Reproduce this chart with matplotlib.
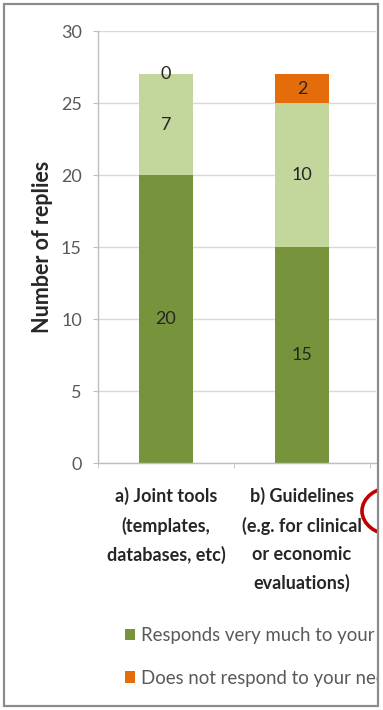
import matplotlib

matplotlib.use("Agg")
import matplotlib.pyplot as plt
from matplotlib.patches import Ellipse, Rectangle
from matplotlib.ticker import FixedLocator

plt.rcParams["font.family"] = ["Lato", "DejaVu Sans"]

CATEGORIES = [
    "a) Joint tools\n(templates,\ndatabases, etc)",
    "b) Guidelines\n(e.g. for clinical\nor economic\nevaluations)",
]
VERY_MUCH = [20, 15]
PARTIALLY = [7, 10]
NOT_RESPOND = [0, 2]
SERIES_NAMES = [
    "Responds very much to your needs",
    "Responds partially to your needs",
    "Does not respond to your needs",
]
Y_TICKS = [0, 5, 10, 15, 20, 25, 30]

DARK_GREEN = "#77933C"
LIGHT_GREEN = "#C3D69B"
ORANGE = "#E46C0A"
TICK_GREY = "#595959"
TEXT_DARK = "#262626"
AXIS_GREY = "#BFBFBF"
GRID_GREY = "#D9D9D9"

W, H = 383, 710


def fx(x):
    return x / W


def fy(y):
    return 1 - y / H


fig = plt.figure(figsize=(W / 100, H / 100), dpi=100)
ax = fig.add_axes([fx(98), fy(463), fx(376) - fx(98), fy(31) - fy(463)])

x = list(range(len(CATEGORIES)))
width = 0.4
bottoms_2 = VERY_MUCH
bottoms_3 = [a + b for a, b in zip(VERY_MUCH, PARTIALLY)]
ax.bar(x, VERY_MUCH, width, color=DARK_GREEN, zorder=2, label=SERIES_NAMES[0])
ax.bar(x, PARTIALLY, width, bottom=bottoms_2, color=LIGHT_GREEN, zorder=2, label=SERIES_NAMES[1])
ax.bar(x, NOT_RESPOND, width, bottom=bottoms_3, color=ORANGE, zorder=2, label=SERIES_NAMES[2])

for values, base in [(VERY_MUCH, [0] * len(x)), (PARTIALLY, bottoms_2), (NOT_RESPOND, bottoms_3)]:
    for xi, v, b in zip(x, values, base):
        ax.text(xi, b + v / 2, f"{v}", ha="center", va="center", fontsize=13,
                color=TEXT_DARK, zorder=3)

ax.set_ylim(0, 30)
ax.set_xlim(-0.5, -0.5 + (376 - 98) / 136)
ax.set_yticks(Y_TICKS)
ax.set_yticklabels([str(t) for t in Y_TICKS], fontsize=13, color=TICK_GREY)
ax.tick_params(axis="y", length=3.6, color=AXIS_GREY, pad=8)

ax.set_xticks(x)
ax.set_xticklabels(CATEGORIES, fontsize=13, fontweight="bold", color=TEXT_DARK,
                   linespacing=1.78, va="top")
ax.xaxis.set_minor_locator(FixedLocator([-0.5, 0.5, 1.5, 2.5]))
ax.tick_params(axis="x", which="major", length=0, pad=17)
ax.tick_params(axis="x", which="minor", length=3.6, color=AXIS_GREY)

ax.grid(axis="y", color=GRID_GREY, linewidth=1.0, zorder=0)
ax.set_axisbelow(True)
for side in ["top", "right"]:
    ax.spines[side].set_visible(False)
for side in ["left", "bottom"]:
    ax.spines[side].set_color(AXIS_GREY)
    ax.spines[side].set_linewidth(1.0)

ax.set_ylabel("Number of replies", fontsize=15.5, fontweight="bold", color=TEXT_DARK,
              labelpad=6)

handles, labels = ax.get_legend_handles_labels()
order = [0, 2, 1]
fig.legend(
    [handles[i] for i in order],
    [labels[i] for i in order],
    loc="upper left",
    bbox_to_anchor=(fx(125), fy(627)),
    bbox_transform=fig.transFigure,
    ncol=2,
    frameon=False,
    fontsize=13.4,
    labelcolor=TICK_GREY,
    handlelength=0.55,
    handleheight=0.55,
    handletextpad=0.3,
    labelspacing=1.38,
    borderpad=0,
    borderaxespad=0,
    columnspacing=2.0,
)

# red pen mark on the right edge of the page
fig.add_artist(Ellipse((fx(393), fy(511)), fx(62), 48 / H, transform=fig.transFigure,
                       fill=False, edgecolor="#C00000", linewidth=2.6, zorder=5))

# blank strip past the page edge, then the page border
fig.add_artist(Rectangle((fx(377), 0), 1 - fx(377), 1, transform=fig.transFigure,
                         facecolor="white", edgecolor="none", zorder=10))
fig.add_artist(Rectangle((fx(4), fy(706)), fx(378) - fx(4), fy(4) - fy(706),
                         transform=fig.transFigure, fill=False, edgecolor="#8C8C8C",
                         linewidth=1.6, zorder=11))

fig.savefig("out.png", dpi=100)
